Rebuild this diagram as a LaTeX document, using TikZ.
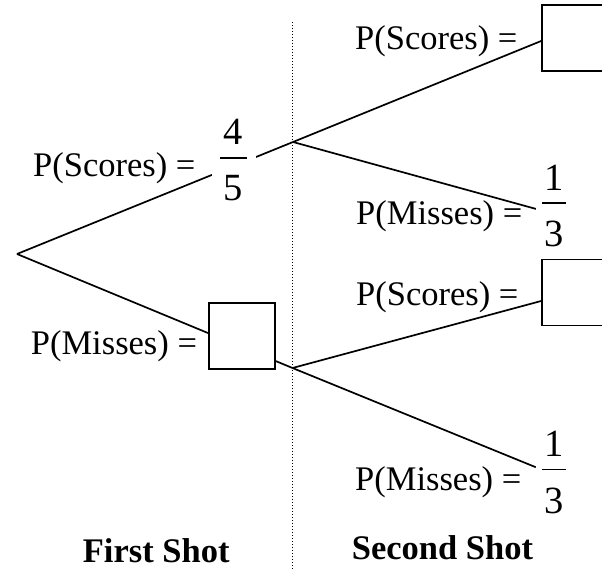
\documentclass[tikz,border=0pt]{standalone}
\usepackage{fontspec}
\setmainfont{Liberation Serif}
\usetikzlibrary{backgrounds}
\newcommand{\fracbox}[3]{\vbox{\offinterlineskip\hsize=#1\fontsize{38.5}{40}\selectfont
  \hbox to #1{\hss #2\hss}\kern 12.25pt\hrule height 1.5pt\kern 17.25pt\hbox to #1{\hss #3\hss}}}
\begin{document}
\begin{tikzpicture}[x=1pt,y=-1pt,
  every node/.style={inner sep=0pt, font=\fontsize{34.5}{40}\selectfont},
  branch/.style={line width=1.7pt},
  ansbox/.style={draw, line width=1.7pt, fill=white, minimum width=66pt, minimum height=66pt},
  frac/.style={fill=white, inner xsep=6pt, anchor=base},
  lab/.style={anchor=base west},
  head/.style={anchor=base west, font=\fontsize{34.5}{40}\selectfont\bfseries},
  divider/.style={line width=1pt, dash pattern=on 1pt off 2pt}]
\useasboundingbox (0,0) rectangle (602,569);
% tree points
\coordinate (root) at (17,254);
\coordinate (n1) at (293,142);
\coordinate (n2) at (292.5,368);
\coordinate (dtop) at (292.7,22);
\coordinate (dbot) at (292.7,569);
% boxes and fractions
\node[ansbox] (b1) at (242,336) {};
\node[ansbox] (b2) at (575,38) {};
\node[ansbox] (b3) at (575,292.5) {};
\node[frac, inner xsep=8.5pt] (f1) at (233.5,201) {\fracbox{27pt}{4}{5}};
\node[frac] (f2) at (554.2,246.7) {\fracbox{24pt}{1}{3}};
\node[frac] (f4) at (554,513) {\fracbox{24pt}{1}{3}};
% labels
\node[lab] (l1) at (33,177) {P(Scores) =};
\node[lab] (l2) at (30.7,354) {P(Misses) =};
\node[lab] (l3) at (355,50) {P(Scores) =};
\node[lab] (l4) at (356,225) {P(Misses) =};
\node[lab] (l5) at (356,305.7) {P(Scores) =};
\node[lab] (l6) at (355,490.7) {P(Misses) =};
\node[head] (h1) at (82.7,562.5) {First Shot};
\node[head] (h2) at (351.7,559) {Second Shot};
\begin{pgfonlayer}{background}
\draw[divider] (dtop) -- (dbot);
\draw[branch] (root) -- (n1);
\draw[branch] (root) -- (n2);
\draw[branch] (n1) -- ([yshift=-3pt]b2.west);
\draw[branch] (n1) -- ([yshift=-3pt]f2.west);
\draw[branch] (n2) -- ([yshift=-8.5pt]b3.west);
\draw[branch] (n2) -- ([yshift=5pt]f4.west);
\end{pgfonlayer}
\end{tikzpicture}
\end{document}
